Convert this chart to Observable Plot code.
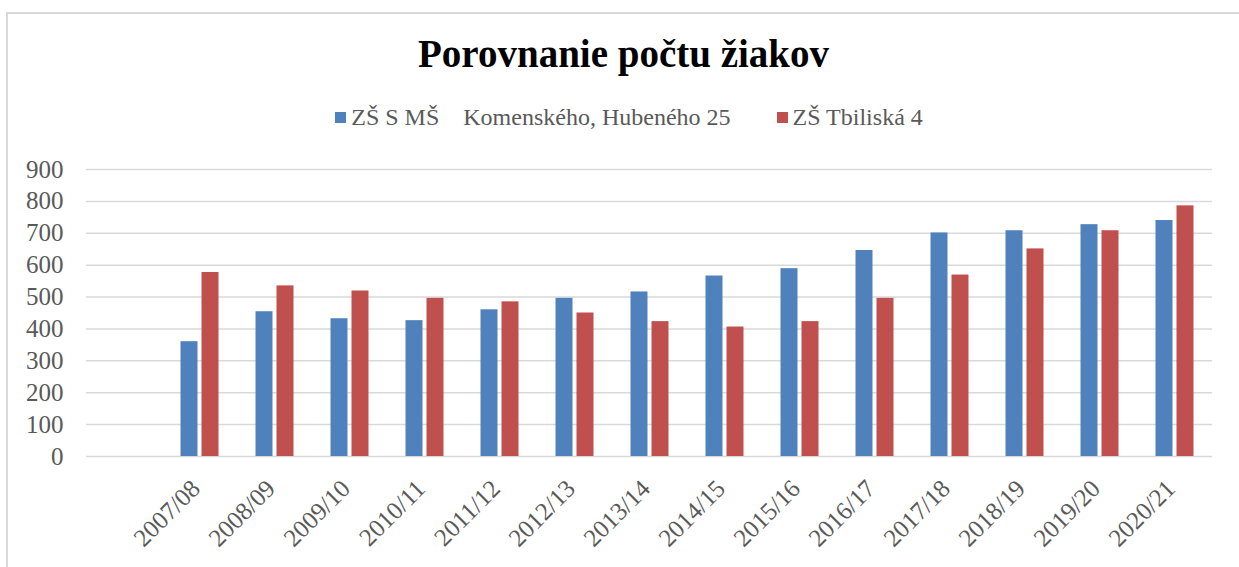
<!DOCTYPE html>
<html>
<head>
<meta charset="utf-8">
<script src="https://cdn.jsdelivr.net/npm/d3@7"></script>
<script src="https://cdn.jsdelivr.net/npm/@observablehq/plot@0.6"></script>
<style>
  html, body { margin: 0; padding: 0; background: #fff; }
  #wrap { position: relative; width: 1239px; height: 567px; overflow: hidden; font-family: "Liberation Serif", serif; }
  #box { position: absolute; left: 6px; top: 12px; width: 1300px; height: 600px; border-left: 2px solid #d9d9d9; border-top: 2px solid #d9d9d9; }
  #title { position: absolute; left: 0; width: 1247px; top: 31px; text-align: center; font-size: 39px; font-weight: bold; color: #000; }
  #legend { position: absolute; left: 0; width: 1258px; top: 104px; text-align: center; font-size: 24px; color: #595959; white-space: pre; }
  .sw { display: inline-block; width: 11px; height: 11px; margin-right: 5px; vertical-align: 2px; }
  #chart { position: absolute; left: 0; top: 150px; }
</style>
</head>
<body>
<div id="wrap">
  <div id="box"></div>
  <div id="title"></div>
  <div id="legend"></div>
  <div id="chart"></div>
</div>
<script>
const title = "Porovnanie počtu žiakov";
const seriesNames = ["ZŠ S MŠ    Komenského, Hubeného 25", "ZŠ Tbiliská 4"];
const seriesColors = ["#4F81BD", "#C0504D"];
const years = ["2007/08","2008/09","2009/10","2010/11","2011/12","2012/13","2013/14","2014/15","2015/16","2016/17","2017/18","2018/19","2019/20","2020/21"];
const komenskeho = [360, 454, 432, 426, 460, 496, 516, 566, 589, 646, 701, 708, 727, 740];
const tbiliska = [577, 535, 519, 496, 485, 450, 423, 406, 423, 496, 569, 651, 708, 786];
const yTicks = [0, 100, 200, 300, 400, 500, 600, 700, 800, 900];

document.getElementById("title").textContent = title;
const leg = document.getElementById("legend");
seriesNames.forEach((n, i) => {
  const s = document.createElement("span");
  s.className = "sw"; s.style.background = seriesColors[i];
  leg.appendChild(s);
  const t = document.createElement("span");
  t.textContent = n;
  t.style.marginRight = i === 0 ? "46px" : "0";
  leg.appendChild(t);
});

const xDomain = [""].concat(years);
const dataA = years.map((y, i) => ({year: y, value: komenskeho[i]}));
const dataB = years.map((y, i) => ({year: y, value: tbiliska[i]}));

const chart = Plot.plot({
  width: 1239,
  height: 417,
  marginTop: 19,
  marginBottom: 111,
  marginLeft: 86,
  marginRight: 27,
  style: { fontFamily: "Liberation Serif, serif", color: "#595959", background: "transparent" },
  x: { domain: xDomain, padding: 0 },
  y: { domain: [0, 900] },
  marks: [
    Plot.gridY(yTicks, { stroke: "#d9d9d9", strokeOpacity: 1, strokeWidth: 1.5 }),
    Plot.barY(dataA, { x: "year", y: "value", fill: seriesColors[0], insetLeft: 29, insetRight: 29, dx: -10.5 }),
    Plot.barY(dataB, { x: "year", y: "value", fill: seriesColors[1], insetLeft: 29, insetRight: 29, dx: 10.5 }),
    Plot.axisY(yTicks, { tickSize: 0, tickPadding: 23, fontSize: 25, label: null }),
    Plot.axisX({ tickSize: 0, tickRotate: -45, tickPadding: 28, fontSize: 25, label: null, dx: -4 })
  ]
});
document.getElementById("chart").appendChild(chart);
</script>
</body>
</html>
